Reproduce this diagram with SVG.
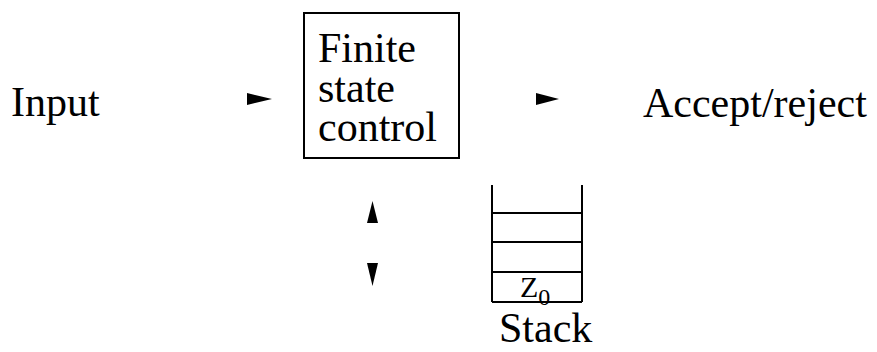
<svg xmlns="http://www.w3.org/2000/svg" width="877" height="352" viewBox="0 0 877 352">
<style>
text{font-family:'Liberation Serif','Times New Roman','DejaVu Serif',serif;fill:#000}
.t{font-size:42px}
.ln{stroke:#000;stroke-width:2;fill:none}
.ah{fill:#000;stroke:none}
</style>
<rect width="877" height="352" fill="#fff"/>
<g id="input"><text class="t" x="11" y="116">Input</text></g>
<g id="fsc">
<rect class="ln" x="304" y="13" width="155" height="145"/>
<text class="t" x="318" y="62">Finite</text>
<text class="t" x="318" y="102">state</text>
<text class="t" x="318" y="141">control</text>
</g>
<g id="accept"><text class="t" x="643" y="117">Accept/reject</text></g>
<g id="stack">
<path class="ln" d="M492,185V302M582,185V302M492,213H582M492,242H582M492,272H582M492,302H582"/>
<text x="520" y="297" font-size="30">Z<tspan font-size="24" y="305">0</tspan></text>
<text class="t" x="499" y="342">Stack</text>
</g>
<g id="connectors">
<polygon class="ah" points="247,93 272,99 247,105"/>
<polygon class="ah" points="536,93 559,99 536,105"/>
<polygon class="ah" points="372.5,201 378,223 367,223"/>
<polygon class="ah" points="367,263 378,263 372.5,286"/>
</g>
</svg>
